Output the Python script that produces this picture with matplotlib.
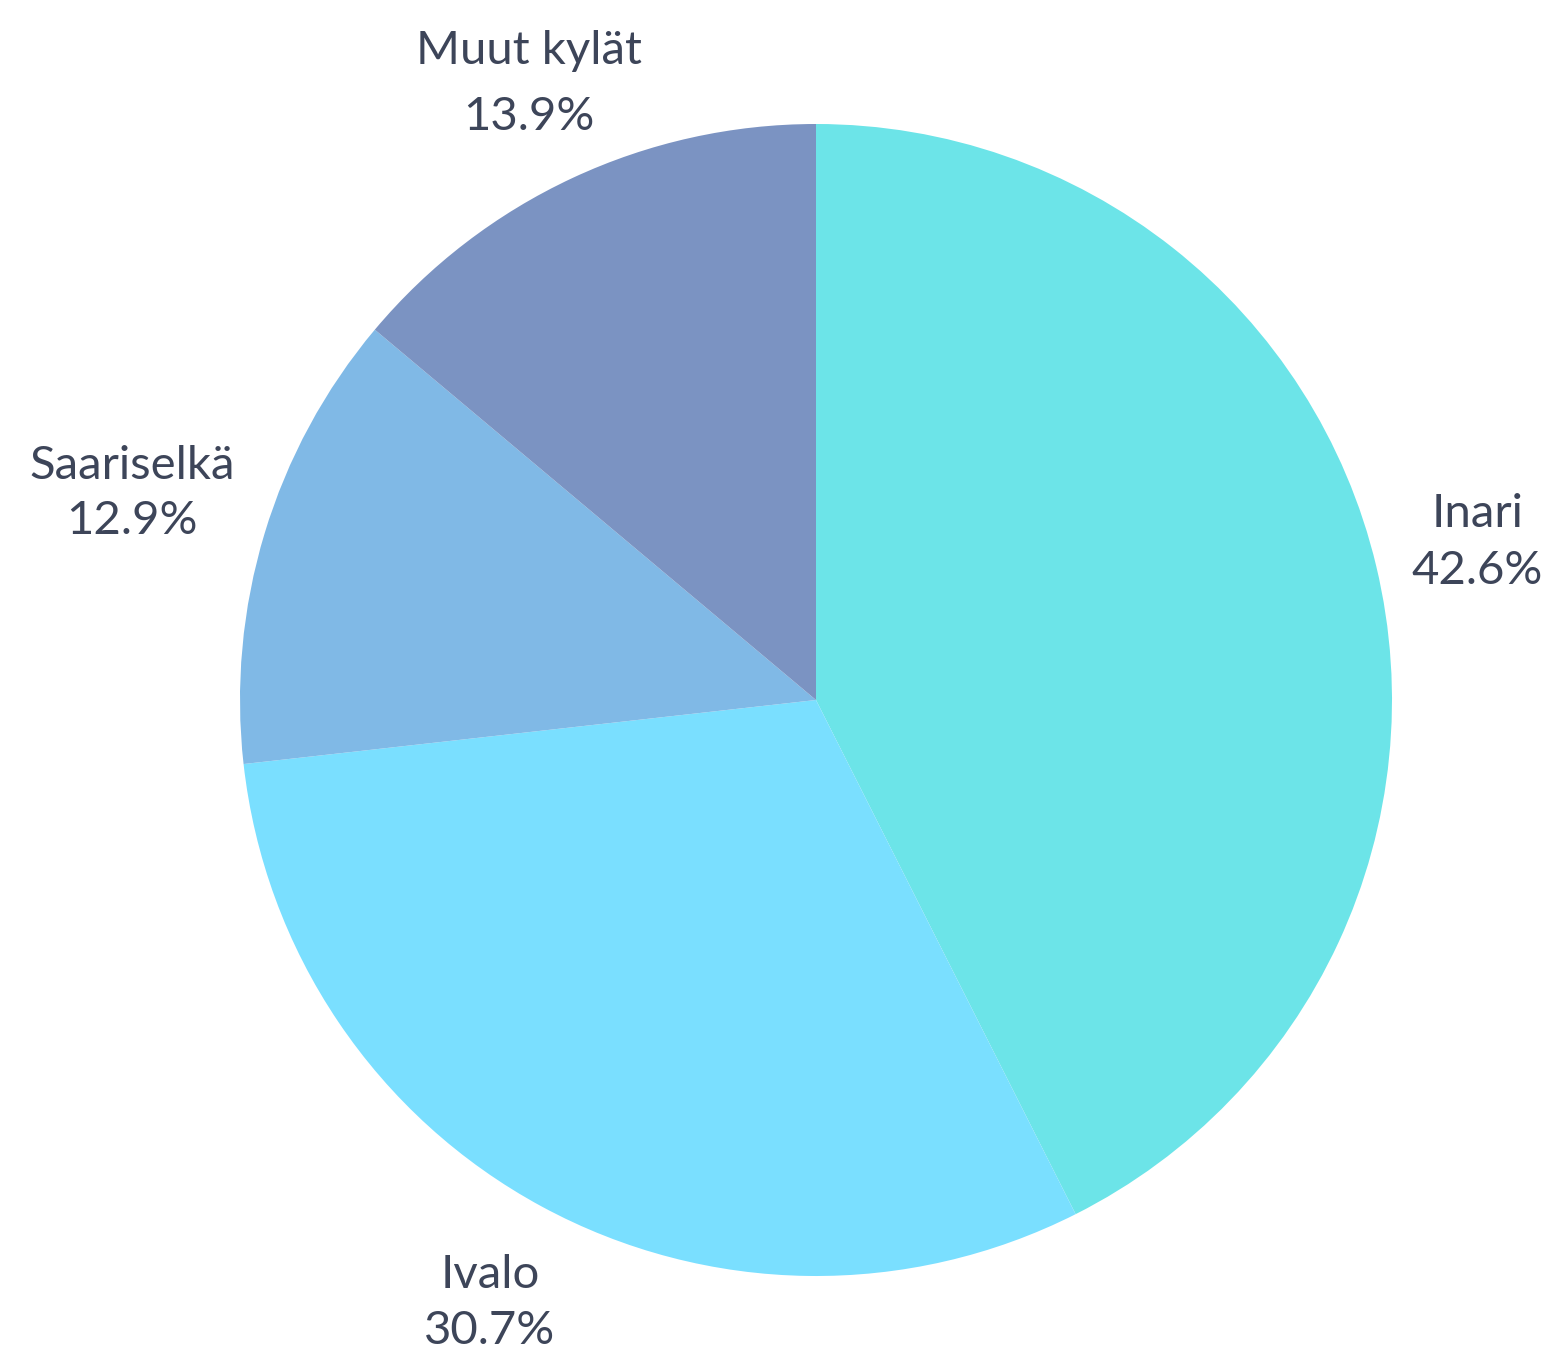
import numpy as np
import matplotlib
matplotlib.use("Agg")
from matplotlib import pyplot as plt

# data
labels = ['Inari', 'Ivalo', 'Saariselkä', 'Muut kylät']
shares = [42.6, 30.7, 12.9, 13.9]
colors = ['#6ce4e8', '#7adfff', '#80b9e6', '#7b93c2']

plt.rcParams['font.family'] = ['Lato', 'DejaVu Sans']

fig = plt.figure(figsize=(15.52, 13.53), dpi=100)
ax = fig.add_axes([0, 0, 1, 1])

cx, cy, r = 816, 653, 576
wedges, _ = ax.pie(shares, colors=colors, startangle=90, counterclock=False,
                   center=(cx, cy), radius=r, normalize=True,
                   wedgeprops=dict(linewidth=0))

# label distances (relative to radius) and line spacing tuned per slice
dists = [1.18, 1.19, 1.24, 1.18]
spacing = [1.45, 1.4, 1.4, 1.7]
for w, lab, val, d, ls in zip(wedges, labels, shares, dists, spacing):
    mid = np.deg2rad((w.theta1 + w.theta2) / 2)
    x = cx + d * r * np.cos(mid)
    y = cy + d * r * np.sin(mid)
    ax.text(x, y, f'{lab}\n{val:.1f}%', ha='center', va='center',
            fontsize=34, color='#3d4559', linespacing=ls)

# pie() resets limits, so set them afterwards
ax.set_xlim(0, 1552)
ax.set_ylim(0, 1353)
ax.set_aspect('equal')
ax.axis('off')

fig.savefig('out.png', dpi=100)
